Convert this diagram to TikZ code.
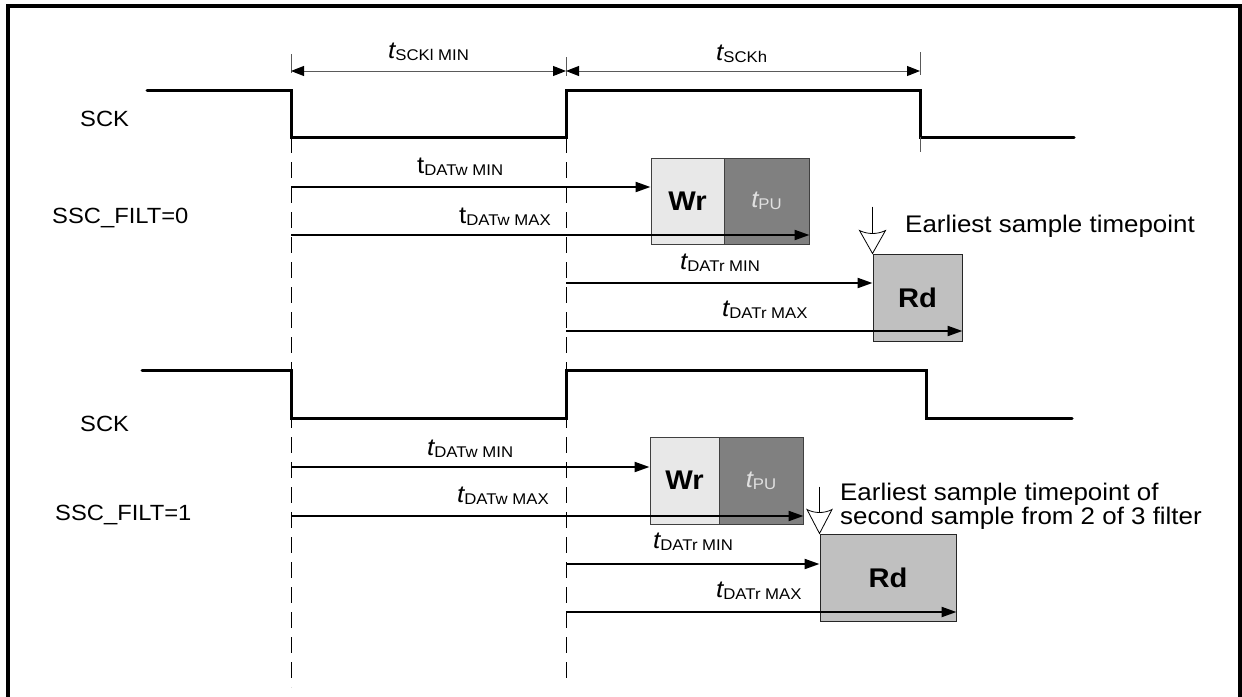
\documentclass[tikz,border=0pt]{standalone}
\usepackage{fontspec}
\setmainfont{Liberation Sans}[FakeStretch=1.08]
\usetikzlibrary{arrows.meta}
\definecolor{wrfill}{HTML}{E8E8E8}
\definecolor{pufill}{HTML}{808080}
\definecolor{rdfill}{HTML}{C0C0C0}
\definecolor{putext}{HTML}{E0E0E0}
\definecolor{dimgray}{HTML}{5A5A5A}
\newcommand\tsym[2]{{\fontsize{24}{26}\selectfont #1t}\raisebox{-2pt}{\fontsize{15.5}{16}\selectfont\upshape #2}}
\begin{document}
\begin{tikzpicture}[x=1pt,y=-1pt,
  sig/.style={line width=3pt,line cap=round,line join=miter},
  arr/.style={line width=2.2pt,-{Triangle[length=15pt,width=10pt]}},
  dimarr/.style={dimgray,line width=1pt,{Triangle[length=13pt,width=10pt,black]}-{Triangle[length=13pt,width=10pt,black]}},
  tick/.style={dimgray,line width=0.9pt},
  dashv/.style={line width=1pt,dash pattern=on 16pt off 9pt},
  box/.style={draw=black!75,line width=1pt,inner sep=0pt},
  boxtxt/.style={font=\fontsize{27}{30}\selectfont\bfseries},
  lbl/.style={inner sep=0pt,anchor=base west,font=\fontsize{22}{24}\selectfont},
  tlbl/.style={inner sep=0pt,anchor=base west},
  note/.style={inner sep=0pt,font=\fontsize{24}{24}\selectfont},
  marker/.style={line width=0.8pt}
]
\useasboundingbox (0,0) rectangle (1242,696);
% frame
\draw[line width=4pt] (8,700) -- (8,6) -- (1240,6) -- (1240,700);

% ---- clock 1 ----
\draw[sig] (147,90) -- (291,90) -- (291,137) -- (566,137) -- (566,90) -- (920,90) -- (920,137) -- (1074,137);
\draw[tick] (920,137) -- (920,152);
% dimension
\draw[tick] (291,54) -- (291,73);
\draw[tick] (566,57) -- (566,76);
\draw[tick] (920,52) -- (920,75);
\coordinate (d0) at (291,71);
\coordinate (d1) at (566,71);
\coordinate (d2) at (920,71);
\draw[dimarr] (d0) -- (d1);
\draw[dimarr] (d1) -- (d2);
\node[tlbl] (lsckl) at (388,58) {\tsym{\itshape}{SCKl MIN}};
\node[tlbl] (lsckh) at (716,60) {\tsym{\itshape}{SCKh}};

% dashed guides
\draw[dashv] (291,137) -- (291,687);
\draw[dashv] (566,137) -- (566,678);

% labels left
\node[lbl] (sck1) at (80,126) {SCK};
\node[lbl] (filt0) at (52,223) {SSC\_FILT=0};
\node[lbl] (sck2) at (80,431) {SCK};
\node[lbl] (filt1) at (55,520) {SSC\_FILT=1};

% ---- section 1 boxes ----
\node[box,fill=wrfill,minimum width=73pt,minimum height=86pt,boxtxt] (wr1) at (687.5,201) {Wr};
\node[box,fill=pufill,minimum width=85pt,minimum height=86pt] (pu1) at (766.5,201) {\color{putext}\tsym{\itshape}{PU}};
\node[box,draw=black!85,fill=rdfill,minimum width=89pt,minimum height=87pt,boxtxt] (rd1) at (917.5,297.5) {Rd};

\coordinate (w1a) at (291,187);
\coordinate (w1b) at (291,235);
\coordinate (r1a) at (566,283);
\coordinate (r1b) at (566,331);
\draw[arr] (w1a) -- (w1a -| wr1.west);
\draw[arr] (w1b) -- (w1b -| pu1.east);
\draw[arr] (r1a) -- (r1a -| rd1.west);
\draw[arr] (r1b) -- (r1b -| rd1.east);
\node[tlbl] (lw1a) at (417,173) {\tsym{\upshape}{DATw MIN}};
\node[tlbl] (lw1b) at (459,223) {\tsym{\upshape}{DATw MAX}};
\node[tlbl] (lr1a) at (680,269) {\tsym{\itshape}{DATr MIN}};
\node[tlbl] (lr1b) at (722,316) {\tsym{\itshape}{DATr MAX}};

% sample marker 1
\begin{scope}[shift={(rd1.north west)}]
  \draw[marker,fill=white] (-13,-23) .. controls (-5,-19) and (5,-19) .. (13,-23) -- (0,0) -- cycle;
  \draw[marker] (0,-47) -- (0,-20);
\end{scope}
\node[note,anchor=base west] (es1) at (905,232) {Earliest sample timepoint};

% ---- clock 2 ----
\draw[sig] (142,370) -- (291,370) -- (291,418) -- (566,418) -- (566,370) -- (926,370) -- (926,418) -- (1072,418);

% ---- section 2 boxes ----
\node[box,fill=wrfill,minimum width=69pt,minimum height=87pt,boxtxt] (wr2) at (684.5,480.5) {Wr};
\node[box,fill=pufill,minimum width=84pt,minimum height=87pt] (pu2) at (761,480.5) {\color{putext}\tsym{\itshape}{PU}};
\node[box,draw=black!85,fill=rdfill,minimum width=136pt,minimum height=87pt,boxtxt] (rd2) at (888,577.5) {Rd};

\coordinate (w2a) at (291,467);
\coordinate (w2b) at (291,516);
\coordinate (r2a) at (566,564);
\coordinate (r2b) at (566,612);
\draw[arr] (w2a) -- (w2a -| wr2.west);
\draw[arr] (w2b) -- (w2b -| pu2.east);
\draw[arr] (r2a) -- (r2a -| rd2.west);
\draw[arr] (r2b) -- (r2b -| rd2.east);
\node[tlbl] (lw2a) at (427,455) {\tsym{\itshape}{DATw MIN}};
\node[tlbl] (lw2b) at (457,502) {\tsym{\itshape}{DATw MAX}};
\node[tlbl] (lr2a) at (653,548) {\tsym{\itshape}{DATr MIN}};
\node[tlbl] (lr2b) at (716,597) {\tsym{\itshape}{DATr MAX}};

% sample marker 2
\begin{scope}[shift={(rd2.north west)}]
  \draw[marker,fill=white] (-12.5,-24) .. controls (-5,-20) and (5,-20) .. (12.5,-24) -- (0,0) -- cycle;
  \draw[marker] (0,-47) -- (0,-21);
\end{scope}
\node[note,anchor=west,align=left] (es2) at (840,506) {Earliest sample timepoint of\\second sample from 2 of 3 filter};
\end{tikzpicture}
\end{document}
